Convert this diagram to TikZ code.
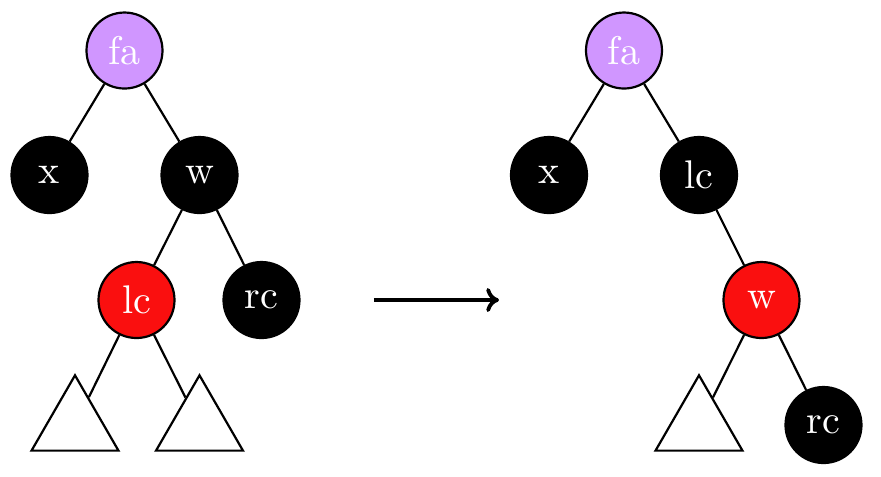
\documentclass[tikz,border=0pt]{standalone}
\usetikzlibrary{shapes.geometric,arrows.meta}
\definecolor{nodepurple}{RGB}{208,150,255}
\definecolor{nodered}{RGB}{250,15,15}
\begin{document}
\begin{tikzpicture}[x=0.25pt,y=-0.25pt,
  rb/.style={circle,draw=black,line width=0.55pt,minimum size=19pt,inner sep=0pt,text=white,font=\normalsize},
  blk/.style={rb,fill=black},
  redn/.style={rb,fill=nodered},
  purp/.style={rb,fill=nodepurple},
  subtree/.style={regular polygon,regular polygon sides=3,draw=black,line width=0.55pt,minimum size=25.1pt,inner sep=0pt},
  edge/.style={line width=0.55pt}]
\useasboundingbox (0,0) rectangle (881,476);
% left tree
\node[purp] (Lfa) at (124.5,50.5) {fa};
\node[blk] (Lx) at (49.5,175) {x};
\node[blk] (Lw) at (199.5,175) {w};
\node[redn] (Llc) at (136.5,300) {lc};
\node[blk] (Lrc) at (261.5,300) {rc};
\node[subtree] (Lt1) at (75,425.5) {};
\node[subtree] (Lt2) at (199.5,425.5) {};
\draw[edge] (Lfa) -- (Lx);
\draw[edge] (Lfa) -- (Lw);
\draw[edge] (Lw) -- (Llc);
\draw[edge] (Lw) -- (Lrc);
\draw[edge] (Llc) -- (Lt1);
\draw[edge] (Llc) -- (Lt2);
% arrow
\coordinate (As) at (374,300);
\coordinate (Ae) at (499,300);
\draw[line width=0.95pt,-{To[width=6pt,length=3.2pt]}] (As) -- (Ae);
% right tree
\node[purp] (Rfa) at (624,50.5) {fa};
\node[blk] (Rx) at (549,175) {x};
\node[blk] (Rlc) at (699,175) {lc};
\node[redn] (Rw) at (761.5,300) {w};
\node[blk] (Rrc) at (823.5,425) {rc};
\node[subtree] (Rt) at (699,425.5) {};
\draw[edge] (Rfa) -- (Rx);
\draw[edge] (Rfa) -- (Rlc);
\draw[edge] (Rlc) -- (Rw);
\draw[edge] (Rw) -- (Rt);
\draw[edge] (Rw) -- (Rrc);
\end{tikzpicture}
\end{document}
